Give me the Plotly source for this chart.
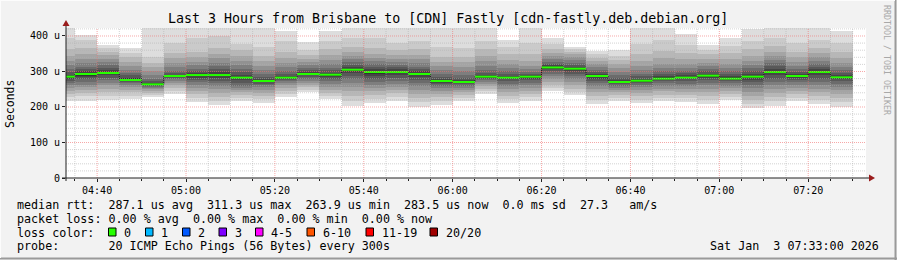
import plotly.graph_objects as go
import pandas as pd

# ---------------- data ----------------
bar_end_times = pd.date_range("2026-01-03 04:35:00", "2026-01-03 07:30:00", freq="5min")

median_rtt_us = [285.4, 293.0, 295.8, 276.0, 263.9, 287.3, 290.0, 290.0, 282.6, 273.2,
                 282.6, 293.0, 291.0, 305.0, 298.6, 298.6, 293.0, 273.2, 270.4, 285.4,
                 282.6, 285.4, 311.3, 307.9, 287.3, 270.4, 274.0, 279.8, 282.6, 288.3,
                 279.8, 285.4, 298.6, 287.3, 298.6, 283.5]

# 20 sorted ping rtts (us) per 5-minute step
pings_0435 = [217, 228, 237, 245, 253, 261, 268, 274, 279, 283, 287, 291, 298, 307, 318, 330, 345, 362, 395, 450]
pings_0440 = [218, 230, 240, 248, 255, 262, 270, 278, 285, 290, 295, 300, 306, 314, 324, 336, 349, 366, 390, 403]
pings_0445 = [221, 232, 242, 252, 261, 269, 276, 283, 289, 293, 298, 303, 309, 317, 326, 336, 346, 356, 365, 376]
pings_0450 = [222, 232, 241, 249, 256, 262, 267, 271, 274, 277, 279, 283, 289, 296, 305, 316, 328, 340, 352, 366]
pings_0455 = [227, 234, 240, 245, 250, 254, 257, 259, 261, 263, 265, 268, 273, 280, 290, 302, 314, 325, 340, 440]
pings_0500 = [238, 246, 254, 261, 267, 273, 278, 282, 285, 286, 288, 291, 295, 302, 312, 324, 338, 352, 380, 430]
pings_0505 = [215, 226, 236, 245, 254, 262, 270, 277, 283, 288, 292, 296, 301, 308, 317, 327, 340, 355, 395, 440]
pings_0510 = [206, 218, 229, 240, 250, 259, 267, 274, 281, 287, 293, 299, 306, 315, 325, 337, 350, 365, 400, 445]
pings_0515 = [218, 226, 234, 241, 248, 254, 260, 267, 275, 280, 285, 290, 298, 307, 318, 330, 345, 360, 378, 430]
pings_0520 = [211, 222, 232, 240, 248, 255, 261, 266, 270, 272, 275, 279, 285, 293, 303, 316, 330, 345, 370, 430]
pings_0525 = [229, 238, 246, 254, 261, 267, 272, 276, 279, 281, 284, 288, 294, 302, 312, 324, 338, 355, 385, 413]
pings_0530 = [241, 248, 255, 262, 268, 274, 280, 285, 289, 291, 295, 299, 304, 310, 318, 326, 336, 347, 360, 382]
pings_0535 = [222, 231, 240, 249, 257, 265, 272, 279, 285, 289, 293, 297, 303, 311, 321, 333, 347, 362, 385, 413]
pings_0540 = [204, 218, 232, 245, 257, 268, 278, 287, 295, 301, 308, 313, 319, 326, 334, 344, 356, 370, 395, 440]
pings_0545 = [211, 223, 234, 244, 254, 263, 271, 279, 287, 294, 302, 307, 313, 320, 329, 339, 350, 365, 395, 440]
pings_0550 = [218, 229, 239, 248, 257, 265, 273, 281, 289, 295, 301, 306, 312, 319, 327, 336, 346, 360, 380, 440]
pings_0555 = [201, 214, 226, 237, 248, 258, 267, 276, 284, 290, 296, 301, 307, 314, 323, 334, 346, 362, 385, 440]
pings_0600 = [206, 218, 229, 238, 246, 253, 259, 264, 269, 272, 275, 279, 285, 293, 303, 315, 328, 342, 370, 440]
pings_0605 = [218, 226, 234, 241, 248, 254, 259, 264, 268, 270, 272, 276, 282, 290, 300, 312, 326, 340, 365, 440]
pings_0610 = [237, 245, 252, 259, 265, 271, 276, 280, 283, 284, 287, 291, 297, 305, 316, 330, 345, 362, 385, 440]
pings_0615 = [211, 222, 232, 241, 250, 258, 266, 273, 278, 281, 284, 288, 293, 300, 309, 320, 333, 348, 368, 388]
pings_0620 = [218, 227, 236, 245, 253, 261, 268, 275, 280, 284, 287, 290, 294, 299, 306, 315, 330, 350, 380, 430]
pings_0625 = [246, 254, 262, 270, 278, 286, 294, 301, 306, 309, 313, 317, 322, 328, 335, 343, 352, 364, 378, 394]
pings_0630 = [234, 243, 252, 261, 270, 279, 287, 294, 300, 305, 310, 314, 319, 325, 332, 340, 348, 356, 363, 370]
pings_0635 = [208, 220, 231, 241, 251, 259, 267, 274, 280, 285, 290, 294, 299, 305, 312, 320, 329, 338, 348, 359]
pings_0640 = [218, 226, 234, 241, 248, 254, 259, 264, 267, 269, 272, 276, 282, 290, 299, 309, 320, 332, 345, 361]
pings_0645 = [211, 221, 231, 240, 248, 256, 263, 268, 271, 273, 276, 280, 286, 294, 304, 316, 330, 350, 378, 430]
pings_0650 = [216, 226, 235, 244, 252, 260, 267, 273, 277, 279, 282, 286, 292, 300, 310, 322, 338, 358, 390, 435]
pings_0655 = [215, 225, 234, 243, 251, 259, 266, 273, 278, 281, 285, 289, 295, 302, 311, 322, 336, 352, 375, 406]
pings_0700 = [208, 220, 231, 242, 252, 261, 269, 276, 282, 286, 290, 294, 300, 307, 315, 325, 336, 348, 361, 376]
pings_0705 = [220, 229, 238, 246, 253, 260, 267, 272, 276, 279, 282, 286, 292, 300, 310, 322, 336, 352, 372, 394]
pings_0710 = [196, 209, 221, 232, 243, 253, 262, 270, 277, 282, 288, 294, 301, 309, 318, 330, 345, 362, 385, 420]
pings_0715 = [204, 217, 229, 240, 251, 261, 271, 280, 289, 295, 302, 308, 315, 323, 332, 343, 356, 372, 395, 440]
pings_0720 = [216, 226, 236, 245, 254, 262, 270, 277, 283, 286, 289, 293, 299, 306, 315, 326, 340, 356, 380, 435]
pings_0725 = [208, 220, 231, 242, 252, 262, 271, 280, 289, 296, 302, 308, 314, 321, 330, 340, 352, 367, 390, 440]
pings_0730 = [201, 214, 226, 237, 247, 256, 265, 272, 278, 281, 285, 290, 296, 304, 313, 324, 338, 355, 380, 415]

y_tick_values = [0, 100, 200, 300, 400]
y_tick_labels = ["0", "100 u", "200 u", "300 u", "400 u"]

title_text = "Last 3 Hours from Brisbane to [CDN] Fastly [cdn-fastly.deb.debian.org]"
rtt_stats = ["287.1", "311.3", "263.9", "283.5", "0.0", "27.3"]
loss_stats = ["0.00", "0.00", "0.00", "0.00"]
loss_labels = ["0", "1", "2", "3", "4-5", "6-10", "11-19", "20/20"]
loss_colors = ["#26ff00", "#00b8ff", "#0059ff", "#7e00ff", "#ff00ff", "#ff5500", "#ff0000", "#a00000"]
probe_text = "20 ICMP Echo Pings (56 Bytes) every 300s"
stamp_text = "Sat Jan  3 07:33:00 2026"

# ---------------- build ----------------
smoke_pings = [pings_0435, pings_0440, pings_0445, pings_0450, pings_0455, pings_0500,
               pings_0505, pings_0510, pings_0515, pings_0520, pings_0525, pings_0530,
               pings_0535, pings_0540, pings_0545, pings_0550, pings_0555, pings_0600,
               pings_0605, pings_0610, pings_0615, pings_0620, pings_0625, pings_0630,
               pings_0635, pings_0640, pings_0645, pings_0650, pings_0655, pings_0700,
               pings_0705, pings_0710, pings_0715, pings_0720, pings_0725, pings_0730]

band_colors = ["#dddddd", "#cacaca", "#b7b7b7", "#a4a4a4", "#919191",
               "#7e7e7e", "#6b6b6b", "#585858", "#454545", "#323232"]

W, H = 897, 260
L, R, T, B = 66, 31, 28, 82
PW, PH = W - L - R, H - T - B
MONO = "DejaVu Sans Mono"


def px(x):
    return (x - L) / PW


def py(y):
    return (H - B - y) / PH


step = pd.Timedelta(minutes=5)
centers = bar_end_times - step / 2

fig = go.Figure()
for i, col in enumerate(band_colors):
    lo = [p[i] for p in smoke_pings]
    hi = [p[19 - i] for p in smoke_pings]
    fig.add_trace(go.Bar(
        x=centers, y=[h - l for h, l in zip(hi, lo)], base=lo,
        width=300000, marker=dict(color=col, line=dict(width=0)),
        hoverinfo="skip", showlegend=False))

# dark step connector
conn_x = list(bar_end_times - step) + [bar_end_times[-1]]
conn_y = list(median_rtt_us) + [median_rtt_us[-1]]
fig.add_trace(go.Scatter(x=conn_x, y=conn_y, mode="lines", line=dict(color="#202020", width=1, shape="hv"),
                         hoverinfo="skip", showlegend=False))

mx, my = [], []
for t, m in zip(bar_end_times, median_rtt_us):
    mx += [t - step, t, None]
    my += [m, m, None]
fig.add_trace(go.Scatter(x=mx, y=my, mode="lines", line=dict(color=loss_colors[0], width=2),
                         hoverinfo="skip", showlegend=False))

x_start = pd.Timestamp("2026-01-03 04:33:00")
x_end = pd.Timestamp("2026-01-03 07:33:00")
y_top = 422.5

shapes = []
# grid
minor_col = "rgba(175,175,175,0.55)"
major_col = "rgba(240,110,110,0.6)"
for v in range(20, 421, 20):
    if v % 100 == 0:
        continue
    shapes.append(dict(type="line", xref="paper", yref="y", x0=0, x1=1, y0=v, y1=v,
                       line=dict(color=minor_col, width=1, dash="1px,1px"), layer="above"))
for t in pd.date_range("2026-01-03 04:35", "2026-01-03 07:30", freq="5min"):
    if t.minute % 20 == 0:
        continue
    shapes.append(dict(type="line", xref="x", yref="paper", x0=t, x1=t, y0=0, y1=1,
                       line=dict(color=minor_col, width=1, dash="1px,1px"), layer="above"))
for v in [100, 200, 300, 400]:
    shapes.append(dict(type="line", xref="paper", yref="y", x0=0, x1=1, y0=v, y1=v,
                       line=dict(color=major_col, width=1, dash="1px,1px"), layer="above"))
for t in pd.date_range("2026-01-03 04:40", "2026-01-03 07:20", freq="20min"):
    shapes.append(dict(type="line", xref="x", yref="paper", x0=t, x1=t, y0=0, y1=1,
                       line=dict(color=major_col, width=1, dash="1px,1px"), layer="above"))

# axis lines and arrows
axis_col = "#202020"
arrow_col = "#9a1c1c"
shapes.append(dict(type="line", xref="paper", yref="paper", x0=px(66), x1=px(66), y0=py(181), y1=py(25),
                   line=dict(color=axis_col, width=1), layer="above"))
shapes.append(dict(type="line", xref="paper", yref="paper", x0=px(62), x1=px(870), y0=py(178), y1=py(178),
                   line=dict(color=axis_col, width=1), layer="above"))
shapes.append(dict(type="path", xref="paper", yref="paper",
                   path=f"M {px(62.5)},{py(26)} L {px(69.5)},{py(26)} L {px(66)},{py(20)} Z",
                   fillcolor=arrow_col, line=dict(width=0), layer="above"))
shapes.append(dict(type="path", xref="paper", yref="paper",
                   path=f"M {px(869)},{py(174.5)} L {px(869)},{py(181.5)} L {px(875)},{py(178)} Z",
                   fillcolor=arrow_col, line=dict(width=0), layer="above"))

# frame
shapes.append(dict(type="line", xref="paper", yref="paper", x0=px(895.5), x1=px(895.5), y0=py(0), y1=py(260),
                   line=dict(color="#9a9a9a", width=2)))
shapes.append(dict(type="line", xref="paper", yref="paper", x0=px(0), x1=px(897), y0=py(258.5), y1=py(258.5),
                   line=dict(color="#9a9a9a", width=2)))
shapes.append(dict(type="line", xref="paper", yref="paper", x0=px(0.5), x1=px(0.5), y0=py(0), y1=py(258),
                   line=dict(color="#fcfcfc", width=1)))
shapes.append(dict(type="line", xref="paper", yref="paper", x0=px(0), x1=px(895), y0=py(0.5), y1=py(0.5),
                   line=dict(color="#fcfcfc", width=1)))

# loss color boxes
box_left = [108.5, 145.5, 182.5, 219, 255.5, 307, 366, 430]
for bx, c in zip(box_left, loss_colors):
    shapes.append(dict(type="rect", xref="paper", yref="paper", x0=px(bx), x1=px(bx + 7.5),
                       y0=py(236), y1=py(228), fillcolor=c, line=dict(color="#000000", width=1)))

NB = "\u00a0"


def nb(s):
    return s.replace(" ", NB)


ann = []


def text(x, y, s, size=11.7, anchor="left", color="#000000", angle=0):
    ann.append(dict(x=px(x), y=py(y), xref="paper", yref="paper", text=nb(s), showarrow=False,
                    xanchor=anchor, yanchor="middle", textangle=angle,
                    font=dict(family=MONO, size=size, color=color)))


text(448, 19, title_text, size=13.3, anchor="center")
text(10, 104, "Seconds", size=11.5, anchor="center", angle=-90)
text(887, 60, "RRDTOOL / TOBI OETIKER", size=8.3, anchor="center", color="#a8a8a8", angle=90)

row1 = (f"median rtt:  {rtt_stats[0]} us avg  {rtt_stats[1]} us max  {rtt_stats[2]} us min  "
        f"{rtt_stats[3]} us now  {rtt_stats[4]} ms sd  {rtt_stats[5]}   am/s")
row2 = f"packet loss: {loss_stats[0]} % avg  {loss_stats[1]} % max  {loss_stats[2]} % min  {loss_stats[3]} % now"
text(15, 204.5, row1)
text(15, 218.5, row2)
text(15, 232.5, "loss color:")
for bx, lab in zip(box_left, loss_labels):
    text(bx + 13.5, 232.5, lab)
text(15, 246.5, "probe:       " + probe_text)
text(881, 246.5, stamp_text, anchor="right")

fig.update_layout(
    width=W, height=H, autosize=False,
    margin=dict(l=L, r=R, t=T, b=B, pad=0),
    paper_bgcolor="#f2f2f2", plot_bgcolor="#ffffff",
    barmode="overlay", bargap=0,
    showlegend=False,
    shapes=shapes, annotations=ann,
    xaxis=dict(type="date", range=[x_start, x_end], showgrid=False, zeroline=False, showline=False,
               tickmode="linear", tick0="2026-01-03 04:40:00", dtick=1200000, tickformat="%H:%M",
               ticks="outside", ticklen=3, tickcolor=axis_col,
               tickfont=dict(family=MONO, size=10, color="#000000"),
               minor=dict(ticks="outside", ticklen=2, tickcolor=axis_col, dtick=300000,
                          tick0="2026-01-03 04:35:00", showgrid=False),
               fixedrange=True),
    yaxis=dict(range=[0, y_top], showgrid=False, zeroline=False, showline=False,
               tickmode="array", tickvals=y_tick_values, ticktext=y_tick_labels,
               ticks="outside", ticklen=3, tickcolor=axis_col,
               tickfont=dict(family=MONO, size=10, color="#000000"),
               fixedrange=True),
)

fig.write_html("out.html")
